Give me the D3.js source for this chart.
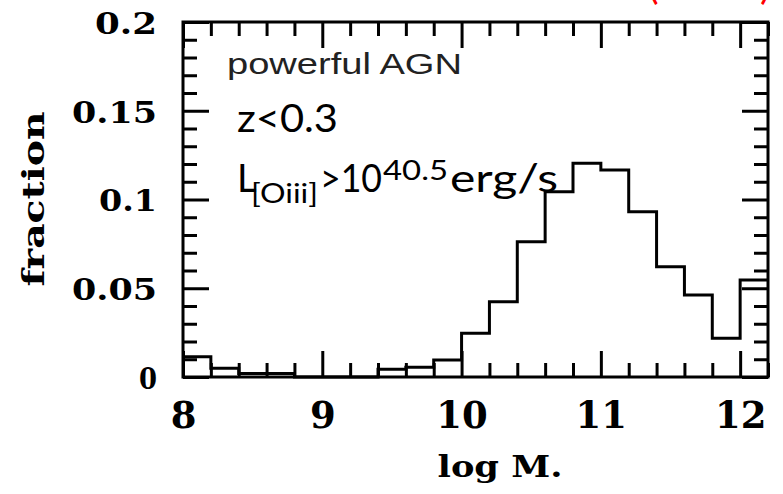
<!DOCTYPE html>
<html>
<head>
<meta charset="utf-8">
<script src="https://cdnjs.cloudflare.com/ajax/libs/d3/7.8.5/d3.min.js"></script>
<style>
  body { margin: 0; background: #fff; }
  svg { display: block; }
</style>
</head>
<body>
<div id="chart"></div>
<script>
////////////////////
// DATA
var binEdges = [8.0, 8.2, 8.4, 8.6, 8.8, 9.0, 9.2, 9.4, 9.6, 9.8, 10.0,
                10.2, 10.4, 10.6, 10.8, 11.0, 11.2, 11.4, 11.6, 11.8, 12.0, 12.2];
var fractions = [0.0114, 0.005, 0.002, 0.002, 0, 0, 0, 0.0043, 0.0055, 0.0096, 0.0246,
                 0.0424, 0.0762, 0.1044, 0.1204, 0.1166, 0.0931, 0.0621, 0.0462, 0.0218, 0.0546];
var xTicks = [8, 9, 10, 11, 12];
var xTickLabels = ["8", "9", "10", "11", "12"];
var yTicks = [0, 0.05, 0.1, 0.15, 0.2];
var yTickLabels = ["0", "0.05", "0.1", "0.15", "0.2"];
var yLabelWidths = [18, 85, 58, 85, 62];

////////////////////
// LAYOUT
var w = 783;
var h = 494;
var plotL = 183, plotR = 768, plotT = 22, plotB = 377;
var majorLen = 26, minorLen = 14;

var x = d3.scaleLinear().domain([8, 12.2]).range([plotL, plotR]);
var y = d3.scaleLinear().domain([0, 0.2]).range([plotB, plotT]);

var xMinor = d3.range(0, 22).map(function(i) { return 8 + i * 0.2; })
  .filter(function(v) { return Math.abs(v - Math.round(v)) > 0.01; });
var yMinor = d3.range(0, 21).map(function(i) { return i * 0.01; })
  .filter(function(v) { return Math.abs(v * 20 - Math.round(v * 20)) > 0.01; });

var svg = d3.select("#chart")
  .append("svg")
  .attr("width", w)
  .attr("height", h);

function styleAxis(g) {
  g.select(".domain").remove();
  g.selectAll(".tick line").attr("stroke", "#000").attr("stroke-width", 3);
}

////////////////////
// TICKS (all four sides, pointing inward)
svg.append("g").attr("transform", "translate(0," + plotB + ")")
  .call(d3.axisBottom(x).tickValues(xMinor).tickSize(-minorLen).tickFormat(""))
  .call(styleAxis);
svg.append("g").attr("transform", "translate(0," + plotT + ")")
  .call(d3.axisTop(x).tickValues(xMinor).tickSize(-minorLen).tickFormat(""))
  .call(styleAxis);
svg.append("g").attr("transform", "translate(0," + plotT + ")")
  .call(d3.axisTop(x).tickValues(xTicks).tickSize(-majorLen).tickFormat(""))
  .call(styleAxis);
svg.append("g").attr("transform", "translate(" + plotL + ",0)")
  .call(d3.axisLeft(y).tickValues(yMinor).tickSize(-minorLen).tickFormat(""))
  .call(styleAxis);
svg.append("g").attr("transform", "translate(" + plotR + ",0)")
  .call(d3.axisRight(y).tickValues(yMinor).tickSize(-minorLen).tickFormat(""))
  .call(styleAxis);
svg.append("g").attr("transform", "translate(" + plotR + ",0)")
  .call(d3.axisRight(y).tickValues(yTicks).tickSize(-majorLen).tickFormat(""))
  .call(styleAxis);

// major ticks with labels
var xAxis = svg.append("g").attr("transform", "translate(0," + plotB + ")")
  .call(d3.axisBottom(x).tickValues(xTicks).tickSize(-majorLen).tickPadding(25)
    .tickFormat(function(d, i) { return xTickLabels[i]; }))
  .call(styleAxis);
xAxis.attr("font-family", "'DejaVu Serif', serif").attr("font-size", 37).attr("font-weight", "bold");
xAxis.selectAll("text").attr("fill", "#000");

var yAxis = svg.append("g").attr("transform", "translate(" + plotL + ",0)")
  .call(d3.axisLeft(y).tickValues(yTicks).tickSize(-majorLen).tickPadding(26)
    .tickFormat(function(d, i) { return yTickLabels[i]; }))
  .call(styleAxis);
yAxis.attr("font-family", "'DejaVu Serif', serif").attr("font-size", 30).attr("font-weight", "bold");
yAxis.selectAll("text")
  .attr("fill", "#000")
  .attr("dy", "0.38em")
  .attr("textLength", function(d, i) { return yLabelWidths[i]; })
  .attr("lengthAdjust", "spacingAndGlyphs");

////////////////////
// HISTOGRAM
var pts = fractions.map(function(f, i) { return [binEdges[i], f]; });
pts.push([binEdges[binEdges.length - 1], fractions[fractions.length - 1]]);
var line = d3.line()
  .x(function(d) { return x(d[0]); })
  .y(function(d) { return y(d[1]); })
  .curve(d3.curveStepAfter);
svg.append("path")
  .attr("d", line(pts))
  .attr("fill", "none")
  .attr("stroke", "#000")
  .attr("stroke-width", 3);

// frame
svg.append("rect")
  .attr("x", plotL).attr("y", plotT)
  .attr("width", plotR - plotL).attr("height", plotB - plotT)
  .attr("fill", "none").attr("stroke", "#000").attr("stroke-width", 3);

////////////////////
// AXIS TITLES
svg.append("text")
  .attr("x", 500).attr("y", 477)
  .attr("text-anchor", "middle")
  .attr("font-family", "'DejaVu Serif', serif").attr("font-weight", "bold").attr("font-size", 30)
  .attr("textLength", 125).attr("lengthAdjust", "spacingAndGlyphs")
  .text("log M.");

svg.append("text")
  .attr("transform", "translate(44,199) rotate(-90)")
  .attr("text-anchor", "middle")
  .attr("font-family", "'DejaVu Serif', serif").attr("font-weight", "bold").attr("font-size", 30)
  .attr("textLength", 175).attr("lengthAdjust", "spacingAndGlyphs")
  .text("fraction");

////////////////////
// ANNOTATIONS
svg.append("text")
  .attr("x", 227).attr("y", 74)
  .attr("font-family", "'Liberation Sans', Arial, sans-serif").attr("font-size", 29)
  .attr("fill", "#222")
  .attr("textLength", 235).attr("lengthAdjust", "spacingAndGlyphs")
  .text("powerful AGN");

svg.append("text")
  .attr("x", 237).attr("y", 132)
  .attr("font-family", "Lato, sans-serif").attr("font-size", 38)
  .attr("textLength", 101).attr("lengthAdjust", "spacingAndGlyphs")
  .text("z<0.3");

var lum = svg.append("text")
  .attr("y", 192)
  .attr("font-family", "Lato, sans-serif").attr("font-size", 38);
lum.append("tspan").attr("x", 237).attr("y", 192).text("L");
lum.append("tspan").attr("x", 251).attr("y", 203).attr("font-size", 26)
  .attr("textLength", 67).attr("lengthAdjust", "spacingAndGlyphs").text("[Oiii]");
lum.append("tspan").attr("x", 320).attr("y", 192)
  .attr("textLength", 62).attr("lengthAdjust", "spacingAndGlyphs").text(">10");
lum.append("tspan").attr("x", 383).attr("y", 180).attr("font-size", 27)
  .attr("textLength", 65).attr("lengthAdjust", "spacingAndGlyphs").text("40.5");
lum.append("tspan").attr("x", 450).attr("y", 192)
  .attr("textLength", 108).attr("lengthAdjust", "spacingAndGlyphs").text("erg/s");

// cut-off red label at the top edge
svg.append("text").attr("x", 648).attr("y", -1)
  .attr("font-family", "Lato, sans-serif").attr("font-size", 40).attr("fill", "#ff0000")
  .text("(");
svg.append("text").attr("x", 760).attr("y", -1)
  .attr("font-family", "Lato, sans-serif").attr("font-size", 40).attr("fill", "#ff0000")
  .text(")");
</script>
</body>
</html>
